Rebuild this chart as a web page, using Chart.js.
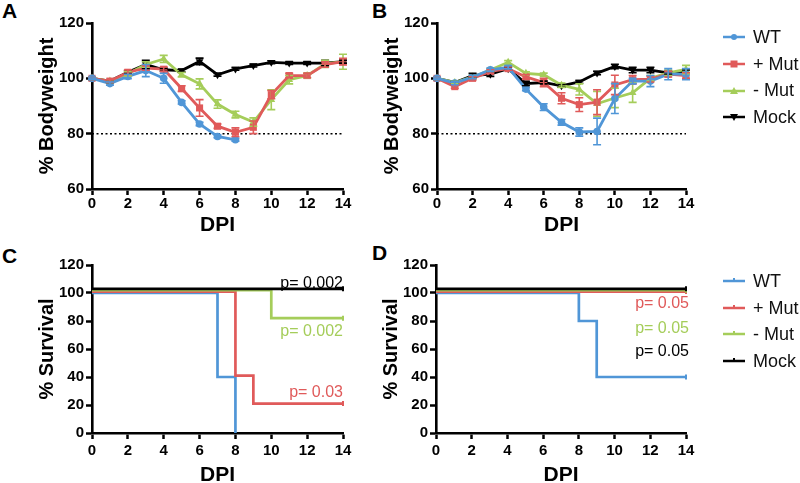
<!DOCTYPE html>
<html>
<head>
<meta charset="utf-8">
<title>Bodyweight and survival after infection</title>
<script src="https://cdn.jsdelivr.net/npm/chart.js@4.4.1/dist/chart.umd.min.js"></script>
<style>
  html, body { margin: 0; padding: 0; background: #fff; }
  body { width: 800px; height: 483px; position: relative; overflow: hidden;
         font-family: "Liberation Sans", Arial, sans-serif; }
  .panel { position: absolute; }
  .letter { position: absolute; font-weight: bold; font-size: 21px; line-height: 21px; color: #000; }
  .legend-item { position: absolute; left: 723px; height: 20px; display: flex; align-items: center;
                 font-size: 18px; color: #111; white-space: nowrap; }
  .legend-item svg { margin-right: 8px; }
</style>
</head>
<body>
<div class="letter" style="left:2px;top:0">A</div>
<div class="letter" style="left:372px;top:0">B</div>
<div class="letter" style="left:2px;top:245px">C</div>
<div class="letter" style="left:372px;top:242px">D</div>

<div class="panel" style="left:0;top:0;width:365px;height:240px"><canvas id="chart-a"></canvas></div>
<div class="panel" style="left:345px;top:0;width:363px;height:240px"><canvas id="chart-b"></canvas></div>
<div class="panel" style="left:0;top:240px;width:365px;height:252px"><canvas id="chart-c"></canvas></div>
<div class="panel" style="left:344px;top:240px;width:364px;height:252px"><canvas id="chart-d"></canvas></div>

<div id="legend-top"></div>
<div id="legend-bottom"></div>

<script>
// ---- data ----
const DAYS = [0, 1, 2, 3, 4, 5, 6, 7, 8, 9, 10, 11, 12, 13, 14];
const GROUPS = ['WT', '+ Mut', '- Mut', 'Mock'];
const COLORS = ['#5096d7', '#e05a5a', '#a5cd5a', '#000000'];
const MARKERS = ['circle', 'rect', 'triangle', 'triangleDown'];
const CUTOFF = 80;

// A: % bodyweight (mean, sem)
const weightA_wt   = [100, 98.1, 100.7, 102.8, 100, 91.3, 83.5, 79, 77.8];
const errA_wt      = [0.5, 0.6, 0.8, 2.2, 1.8, 0.6, 0.6, 0.5, 0.5];
const weightA_plus = [100, 99, 102.2, 103.7, 103.3, 96.3, 89.3, 82.7, 80.5, 82.3, 94.1, 101, 101, 105, 106];
const errA_plus    = [0.5, 0.5, 0.8, 0.8, 0.8, 1, 3, 0.8, 1.6, 2.3, 1.5, 0.8, 0.8, 1, 1.2];
const weightA_minus= [100, 99, 101.7, 105, 107, 101.3, 98, 90.7, 86.9, 84.2, 92.3, 99.5, 101, 105.2, 106];
const errA_minus   = [0.5, 0.5, 0.8, 1, 1.3, 0.8, 1.8, 1.5, 1.2, 1.5, 3.6, 1.5, 0.8, 1.3, 2.7];
const weightA_mock = [100, 99, 102.2, 105, 103.1, 102.8, 106.1, 101.3, 103.4, 104.6, 105.8, 105.5, 105.5, 105.5, 106];
const errA_mock    = [0.5, 0.5, 0.5, 1.5, 0.5, 0.5, 1.2, 0.5, 0.5, 0.5, 0.5, 0.5, 0.5, 1, 0.5];

// B: % bodyweight (mean, sem)
const weightB_wt   = [100, 98.3, 100.5, 103.1, 104, 96.1, 89.6, 84.1, 80.6, 80.8, 92.7, 99, 99, 101.5, 101.5];
const errB_wt      = [0.5, 0.6, 0.6, 0.6, 0.6, 0.6, 1.2, 1, 1.5, 4.8, 5.4, 1, 2, 2, 2];
const weightB_plus = [100, 97, 100, 102.5, 103.5, 100.5, 98.5, 92.8, 90.5, 91.4, 97.6, 99.5, 99.7, 101.5, 101];
const errB_plus    = [0.5, 0.6, 0.6, 0.6, 0.6, 0.8, 1.5, 2, 2.5, 4.5, 3.5, 1.5, 1, 1, 1];
const weightB_minus= [100, 98.5, 100.5, 103, 105.8, 101.8, 101.3, 97.5, 96, 90.8, 92.9, 94.8, 100, 102, 103.2];
const errB_minus   = [0.5, 0.5, 0.5, 0.5, 0.6, 0.6, 0.6, 0.8, 2, 4.5, 3.5, 3.5, 1, 1, 1.5];
const weightB_mock = [100, 98.5, 101, 101.5, 103.5, 98.1, 98.5, 97.3, 98.7, 101.9, 104.3, 103, 103, 102, 102.5];
const errB_mock    = [0.5, 0.5, 0.8, 0.8, 0.5, 0.8, 0.5, 0.5, 0.5, 0.6, 0.8, 1, 1, 0.5, 0.5];

// C: % survival, step points (day, value)
const survC_wt_days    = [0, 7, 8];
const survC_wt         = [100, 40, 0];
const survC_plus_days  = [0, 8, 9, 14];
const survC_plus       = [101, 41, 21, 21];
const survC_minus_days = [0, 10, 14];
const survC_minus      = [102, 82, 82];
const survC_mock_days  = [0, 14];
const survC_mock       = [103, 103];

// D: % survival, step points (day, value)
const survD_wt_days    = [0, 8, 9, 14];
const survD_wt         = [100, 80, 40, 40];
const survD_plus_days  = [0, 14];
const survD_plus       = [101, 101];
const survD_minus_days = [0, 14];
const survD_minus      = [102, 102];
const survD_mock_days  = [0, 14];
const survD_mock       = [103, 103];

const pTextC   = ['p= 0.002', 'p= 0.002', 'p= 0.03'];
const pColorC  = [COLORS[3], COLORS[2], COLORS[1]];
const pTextD   = ['p= 0.05', 'p= 0.05', 'p= 0.05'];
const pColorD  = [COLORS[1], COLORS[2], COLORS[3]];

(function () {
  const FONT = '"Liberation Sans", Arial, sans-serif';
  Chart.defaults.color = '#000';
  Chart.defaults.font.family = FONT;

  // vertical sem bars with caps, drawn in the series colour
  const errorBars = {
    id: 'errorBars',
    afterDatasetsDraw(chart) {
      const { ctx, scales: { x, y } } = chart;
      for (let i = chart.data.datasets.length - 1; i >= 0; i--) {
        const ds = chart.data.datasets[i];
        if (!ds.errors) continue;
        ctx.save();
        ctx.strokeStyle = ds.borderColor;
        ctx.lineWidth = 1.6;
        ds.data.forEach((pt, j) => {
          const e = ds.errors[j];
          if (!e) return;
          const px = x.getPixelForValue(pt.x);
          const top = y.getPixelForValue(pt.y + e);
          const bot = y.getPixelForValue(pt.y - e);
          ctx.beginPath();
          ctx.moveTo(px, top); ctx.lineTo(px, bot);
          ctx.moveTo(px - 4, top); ctx.lineTo(px + 4, top);
          ctx.moveTo(px - 4, bot); ctx.lineTo(px + 4, bot);
          ctx.stroke();
        });
        ctx.restore();
      }
    }
  };

  // p-value annotations anchored on the data scales
  const pLabels = {
    id: 'pLabels',
    afterDatasetsDraw(chart, args, opts) {
      const { ctx, scales: { x, y } } = chart;
      (opts.items || []).forEach(item => {
        ctx.save();
        ctx.font = '16px ' + FONT;
        ctx.fillStyle = item.color;
        ctx.textAlign = 'right';
        ctx.textBaseline = 'middle';
        ctx.fillText(item.text, x.getPixelForValue(item.x) + (opts.dx || 0), y.getPixelForValue(item.y));
        ctx.restore();
      });
    }
  };

  function points(xs, ys) {
    return ys.map((v, i) => ({ x: xs[i], y: v }));
  }

  function markerProps(idx) {
    const m = MARKERS[idx];
    if (m === 'circle') return { pointStyle: 'circle', pointRadius: 3.8 };
    if (m === 'rect') return { pointStyle: 'rect', pointRadius: 5 };
    if (m === 'triangle') return { pointStyle: 'triangle', pointRadius: 4.5 };
    return { pointStyle: 'triangle', pointRadius: 4.5, pointRotation: 180 };
  }

  function weightSet(idx, values, errors) {
    return Object.assign({
      label: GROUPS[idx],
      data: points(DAYS, values),
      errors: errors,
      borderColor: COLORS[idx],
      backgroundColor: COLORS[idx],
      pointBorderWidth: 0,
      borderWidth: 2.8,
      clip: false
    }, markerProps(idx));
  }

  function cutoffSet() {
    return {
      label: 'cutoff',
      data: points([DAYS[0], DAYS[DAYS.length - 1]], [CUTOFF, CUTOFF]),
      borderColor: '#000',
      borderWidth: 1.5,
      borderDash: [2, 2.5],
      pointRadius: 0,
      order: 10
    };
  }

  function survivalSet(idx, days, values) {
    const last = days[days.length - 1];
    return {
      label: GROUPS[idx],
      data: points(days, values),
      borderColor: COLORS[idx],
      backgroundColor: COLORS[idx],
      borderWidth: 2.7,
      stepped: true,
      pointStyle: 'line',
      pointRotation: 90,
      pointBorderWidth: 2,
      // censor tick on the last point only when animals remain
      pointRadius: values.map((v, i) => (i === values.length - 1 && v > 0 && last === 14) ? 2.5 : 0),
      order: 3 - idx,
      clip: false
    };
  }

  function makeOptions(cfg) {
    const tickFont = { size: 15, weight: 'bold' };
    const axisGrid = { display: true, drawOnChartArea: false, drawTicks: true,
                       tickLength: 6, tickWidth: 2.5, tickColor: '#000', color: '#000' };
    return {
      responsive: true,
      maintainAspectRatio: false,
      animation: false,
      events: [],
      layout: { padding: { left: 0, top: cfg.top, right: 22, bottom: 0 } },
      plugins: {
        legend: { display: false },
        tooltip: { enabled: false },
        pLabels: { items: cfg.pItems || [], dx: cfg.pdx || 0 }
      },
      scales: {
        x: {
          type: 'linear', min: 0, max: 14,
          ticks: { stepSize: 2, font: tickFont, padding: cfg.xTickPad, maxRotation: 0 },
          grid: axisGrid,
          border: { color: '#000', width: 2.6 },
          title: { display: true, text: 'DPI', font: { size: 21, weight: 'bold' },
                   padding: { top: 0, bottom: cfg.xTitlePad } },
          afterFit: s => { s.height = cfg.xHeight; }
        },
        y: {
          min: cfg.ymin, max: 120,
          ticks: { stepSize: 20, font: tickFont, padding: 2 },
          grid: axisGrid,
          border: { color: '#000', width: 2.6 },
          title: { display: true, text: cfg.ytitle, font: { size: 20, weight: 'bold' },
                   padding: { top: 35, bottom: 0 } },
          afterFit: s => { s.width = 92; }
        }
      }
    };
  }

  function pItems(texts, colors, anchors) {
    return texts.map((t, i) => ({ text: t, color: colors[i], x: 14, y: anchors[i] }));
  }

  // --- weight panels ---
  const weightCfg = { top: 23, xHeight: 51, xTickPad: 0, xTitlePad: 2, ymin: 60, ytitle: '% Bodyweight' };

  new Chart(document.getElementById('chart-a'), {
    type: 'line',
    data: { datasets: [
      weightSet(0, weightA_wt, errA_wt),
      weightSet(1, weightA_plus, errA_plus),
      weightSet(2, weightA_minus, errA_minus),
      weightSet(3, weightA_mock, errA_mock),
      cutoffSet()
    ] },
    options: makeOptions(weightCfg),
    plugins: [errorBars]
  });

  new Chart(document.getElementById('chart-b'), {
    type: 'line',
    data: { datasets: [
      weightSet(0, weightB_wt, errB_wt),
      weightSet(1, weightB_plus, errB_plus),
      weightSet(2, weightB_minus, errB_minus),
      weightSet(3, weightB_mock, errB_mock),
      cutoffSet()
    ] },
    options: makeOptions(weightCfg),
    plugins: [errorBars]
  });

  // --- survival panels ---
  const survCfg = { top: 25, xHeight: 59, xTickPad: 3, xTitlePad: 4, ymin: 0, ytitle: '% Survival' };

  new Chart(document.getElementById('chart-c'), {
    type: 'line',
    data: { datasets: [
      survivalSet(0, survC_wt_days, survC_wt),
      survivalSet(1, survC_plus_days, survC_plus),
      survivalSet(2, survC_minus_days, survC_minus),
      survivalSet(3, survC_mock_days, survC_mock)
    ] },
    options: makeOptions(Object.assign({}, survCfg, { pItems: pItems(pTextC, pColorC, [107, 72.5, 29]) })),
    plugins: [pLabels]
  });

  new Chart(document.getElementById('chart-d'), {
    type: 'line',
    data: { datasets: [
      survivalSet(0, survD_wt_days, survD_wt),
      survivalSet(1, survD_plus_days, survD_plus),
      survivalSet(2, survD_minus_days, survD_minus),
      survivalSet(3, survD_mock_days, survD_mock)
    ] },
    options: makeOptions(Object.assign({}, survCfg, { pdx: 3, pItems: pItems(pTextD, pColorD, [92.4, 74.5, 57.8]) })),
    plugins: [pLabels]
  });

  // --- legends (html) ---
  function icon(color, marker) {
    let m = '';
    if (marker === 'circle') m = `<circle cx="11" cy="6" r="3" fill="${color}"/>`;
    else if (marker === 'rect') m = `<rect x="7.5" y="2.5" width="7" height="7" fill="${color}"/>`;
    else if (marker === 'triangle') m = `<polygon points="11,2 15,9 7,9" fill="${color}"/>`;
    else if (marker === 'triangleDown') m = `<polygon points="7,3 15,3 11,10" fill="${color}"/>`;
    else if (marker === 'tick') m = `<line x1="11" y1="3" x2="11" y2="6" stroke="${color}" stroke-width="2"/>`;
    return `<svg width="22" height="12" viewBox="0 0 22 12">` +
           `<line x1="0" y1="6" x2="22" y2="6" stroke="${color}" stroke-width="2.5"/>${m}</svg>`;
  }

  function renderLegend(el, centers, markers) {
    GROUPS.forEach((name, i) => {
      const item = document.createElement('div');
      item.className = 'legend-item';
      item.style.top = (centers[i] - 10) + 'px';
      item.innerHTML = icon(COLORS[i], markers[i]) + '<span></span>';
      item.querySelector('span').textContent = name;
      el.appendChild(item);
    });
  }

  renderLegend(document.getElementById('legend-top'), [37, 64, 90.5, 117], MARKERS);
  renderLegend(document.getElementById('legend-bottom'), [281, 308, 334, 361], ['tick', 'tick', 'tick', 'tick']);
})();
</script>
</body>
</html>
